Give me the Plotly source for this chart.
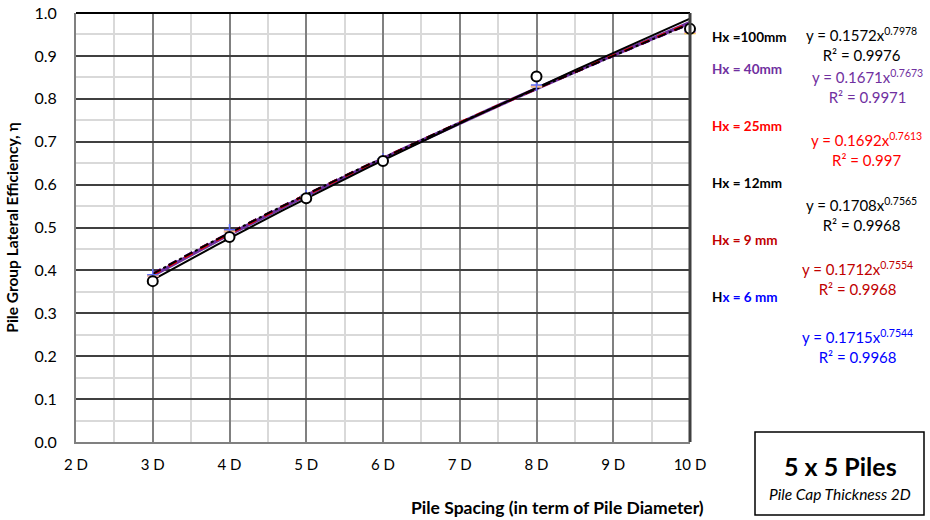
import numpy as np
import plotly.graph_objects as go

# ---------------- data ----------------
spacing = [3, 4, 5, 6, 8, 10]
eff_100 = [0.375, 0.478, 0.568, 0.655, 0.852, 0.963]
eff_40 = [0.390, 0.495, 0.575, 0.660, 0.832, 0.958]
eff_25 = [0.388, 0.492, 0.573, 0.658, 0.830, 0.952]
eff_12 = [0.387, 0.490, 0.572, 0.657, 0.829, 0.955]
eff_9 = [0.387, 0.489, 0.571, 0.657, 0.828, 0.954]
eff_6 = [0.386, 0.489, 0.571, 0.656, 0.828, 0.954]

# power trendline coefficients shown on the chart (y = a x^b)
fit_a = [0.1572, 0.1671, 0.1692, 0.1708, 0.1712, 0.1715]
fit_b = [0.7978, 0.7673, 0.7613, 0.7565, 0.7554, 0.7544]
fit_r2 = ["0.9976", "0.9971", "0.997", "0.9968", "0.9968", "0.9968"]
series_names = ["Hx =100mm", "Hx = 40mm", "Hx = 25mm", "Hx = 12mm", "Hx = 9 mm", "Hx = 6 mm"]
x_ticks = [2, 3, 4, 5, 6, 7, 8, 9, 10]
x_tick_labels = ["2 D", "3 D", "4 D", "5 D", "6 D", "7 D", "8 D", "9 D", "10 D"]
y_ticks = [0.0, 0.1, 0.2, 0.3, 0.4, 0.5, 0.6, 0.7, 0.8, 0.9, 1.0]

colors = ["#000000", "#7030A0", "#FF0000", "#000000", "#C00000", "#0000FF"]
dashes = ["solid", "solid", "dash", "dashdot", "dash", "dash"]
widths = [2, 3.5, 2.5, 2, 2, 2]
all_eff = [eff_100, eff_40, eff_25, eff_12, eff_9, eff_6]

FONT = "Lato"
W, H = 930, 520
L, R, T, B = 76, 690, 13, 442


def px(x):
    return (x - L) / (R - L)


def py(y):
    return (B - y) / (B - T)


fig = go.Figure()

# trendlines
xs = np.linspace(3, 10, 120)
order = [1, 5, 4, 2, 3, 0]
for i in order:
    ys = fit_a[i] * xs ** fit_b[i]
    fig.add_trace(go.Scatter(x=xs, y=ys, mode="lines",
                             line=dict(color=colors[i], dash=dashes[i], width=widths[i]),
                             showlegend=False, hoverinfo="skip"))

# data markers for the other series (small)
small_symbols = ["circle-open", "cross-thin-open", "line-ew-open", "line-ew-open", "line-ew-open", "line-ew-open"]
for i in [5, 4, 3, 2, 1]:
    fig.add_trace(go.Scatter(x=spacing, y=all_eff[i], mode="markers", cliponaxis=False,
                             marker=dict(symbol=small_symbols[i], size=8,
                                         line=dict(color=colors[i] if i != 2 else "#FF6090", width=1.5)),
                             showlegend=False))

# main black circle markers
fig.add_trace(go.Scatter(x=spacing, y=eff_100, mode="markers", cliponaxis=False,
                         marker=dict(symbol="circle", size=10, color="white",
                                     line=dict(color="black", width=2)),
                         showlegend=False))

fig.update_layout(
    width=W, height=H,
    margin=dict(l=L, r=W - R, t=T, b=H - B, autoexpand=False),
    paper_bgcolor="white", plot_bgcolor="white",
    font=dict(family=FONT, color="black", size=14),
    xaxis=dict(range=[2, 10], tickvals=x_ticks, ticktext=x_tick_labels, automargin=False,
               showgrid=True, gridcolor="#808080", gridwidth=1.5,
               minor=dict(dtick=0.5, showgrid=True, gridcolor="#D9D9D9", gridwidth=1.5),
               zeroline=False, showline=True, linecolor="#808080", linewidth=2,
               mirror=False, ticks="", tickfont=dict(size=15, family=FONT), ticklabelstandoff=8),
    yaxis=dict(range=[0, 1.0], tickvals=y_ticks, tickformat=".1f", automargin=False,
               showgrid=True, gridcolor="#404040", gridwidth=1.5,
               minor=dict(dtick=0.05, showgrid=True, gridcolor="#D9D9D9", gridwidth=1.5),
               zeroline=False, showline=True, linecolor="#808080", linewidth=2,
               ticks="", tickfont=dict(size=16, family=FONT), ticklabelstandoff=14,
               title=dict(text="<b>Pile Group Lateral Efficiency, η</b>",
                          font=dict(size=15.5, family=FONT), standoff=12)),
)

# top and right borders
fig.add_shape(type="line", xref="paper", yref="paper", x0=0, x1=1, y0=1, y1=1,
              line=dict(color="black", width=2))
fig.add_shape(type="line", xref="paper", yref="paper", x0=1, x1=1, y0=0, y1=1,
              line=dict(color="#404040", width=3))

# x-axis title
fig.add_annotation(text="<b>Pile Spacing (in term of Pile Diameter)</b>", xref="paper", yref="paper",
                   x=px(557), y=py(508), showarrow=False, font=dict(size=17.5, family=FONT),
                   xanchor="center", yanchor="middle")

# series labels
label_y = [37, 69, 126, 183, 240, 297]
for i in range(6):
    if i == 5:
        txt = "<b>H<span style='color:#0000FF'>x = 6 mm</span></b>"
        col = "black"
    else:
        txt = "<b>" + series_names[i] + "</b>"
        col = colors[i]
    fig.add_annotation(text=txt, xref="paper", yref="paper", x=px(710), y=py(label_y[i]),
                       showarrow=False, xanchor="left", yanchor="middle",
                       font=dict(size=13.5, family=FONT, color=col))

# equations
eq_y = [44, 86, 150, 214, 278, 346]
eq_x = [862, 868, 867, 862, 858, 858]
for i in range(6):
    txt = "y = %.4fx<sup>%.4f</sup><br>R² = %s" % (fit_a[i], fit_b[i], fit_r2[i])
    fig.add_annotation(text=txt, xref="paper", yref="paper", x=px(eq_x[i]), y=py(eq_y[i]),
                       showarrow=False, xanchor="center", yanchor="middle", align="center",
                       font=dict(size=15, family=FONT, color=colors[i] if i != 3 else "black"))

# info box
fig.add_shape(type="rect", xref="paper", yref="paper", x0=px(755), x1=px(924), y0=py(515), y1=py(432),
              line=dict(color="black", width=1.5), fillcolor="white")
fig.add_annotation(text="<b>5 x 5 Piles</b>", xref="paper", yref="paper", x=px(840), y=py(466),
                   showarrow=False, font=dict(size=25, family=FONT), xanchor="center", yanchor="middle")
fig.add_annotation(text="<i>Pile Cap Thickness 2D</i>", xref="paper", yref="paper", x=px(840), y=py(494),
                   showarrow=False, font=dict(size=15.5, family=FONT), xanchor="center", yanchor="middle")

fig.write_html("out.html")
